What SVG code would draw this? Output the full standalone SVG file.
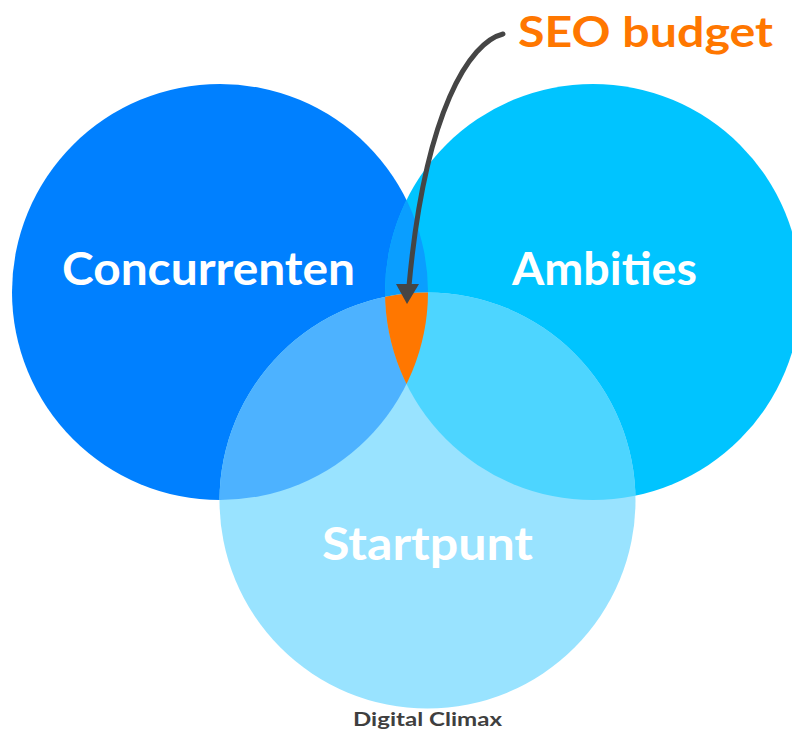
<svg xmlns="http://www.w3.org/2000/svg" width="792" height="730" viewBox="0 0 792 730">
  <defs>
    <style>
      .lbl { font-family: "Lato", "Open Sans", "Liberation Sans", sans-serif; font-weight: 700; fill: #ffffff; text-anchor: middle; }
      .conn { fill: none; stroke: #454545; stroke-width: 5; stroke-linecap: round; }
      .head { fill: #454545; }
    </style>
    <clipPath id="cL"><circle cx="220" cy="292" r="208"/></clipPath>
    <clipPath id="cR"><circle cx="593" cy="292" r="208"/></clipPath>
    <clipPath id="cB"><circle cx="427.5" cy="500.5" r="208"/></clipPath>
  </defs>
  <rect width="792" height="730" fill="#ffffff"/>

  <g id="concurrenten">
    <circle cx="220" cy="292" r="208" fill="#0080FF"/>
  </g>
  <g id="ambities">
    <circle cx="593" cy="292" r="208" fill="#00C4FF"/>
    <circle cx="593" cy="292" r="208" fill="#0A9EFF" clip-path="url(#cL)"/>
  </g>
  <g id="startpunt">
    <circle cx="427.5" cy="500.5" r="208" fill="#99E3FF"/>
    <circle cx="427.5" cy="500.5" r="208" fill="#4DB2FF" clip-path="url(#cL)"/>
    <circle cx="427.5" cy="500.5" r="208" fill="#4DD5FF" clip-path="url(#cR)"/>
    <g clip-path="url(#cL)">
      <circle cx="593" cy="292" r="208" fill="#FF7700" clip-path="url(#cB)"/>
    </g>
  </g>

  <text class="lbl" x="208.5" y="285" font-size="45" textLength="293" lengthAdjust="spacingAndGlyphs">Concurrenten</text>
  <text class="lbl" x="604.5" y="285" font-size="45" textLength="185" lengthAdjust="spacingAndGlyphs">Ambities</text>
  <text class="lbl" x="427.5" y="560" font-size="45" textLength="211" lengthAdjust="spacingAndGlyphs">Startpunt</text>

  <g id="seo-budget">
    <text x="645.5" y="47" font-family="Lato, 'Open Sans', 'Liberation Sans', sans-serif" font-weight="700" font-size="42" fill="#FF7700" text-anchor="middle" textLength="255" lengthAdjust="spacingAndGlyphs">SEO budget</text>
  </g>

  <g id="connectors">
    <path class="conn" d="M503,34 C470,42 425,110 409,286"/>
    <polygon class="head" points="396,284 419,284 407,304"/>
  </g>

  <text x="427.5" y="726" font-family="Lato, 'Open Sans', 'Liberation Sans', sans-serif" font-weight="700" font-size="19" fill="#3F3F3F" text-anchor="middle" textLength="149" lengthAdjust="spacingAndGlyphs">Digital Climax</text>
</svg>
